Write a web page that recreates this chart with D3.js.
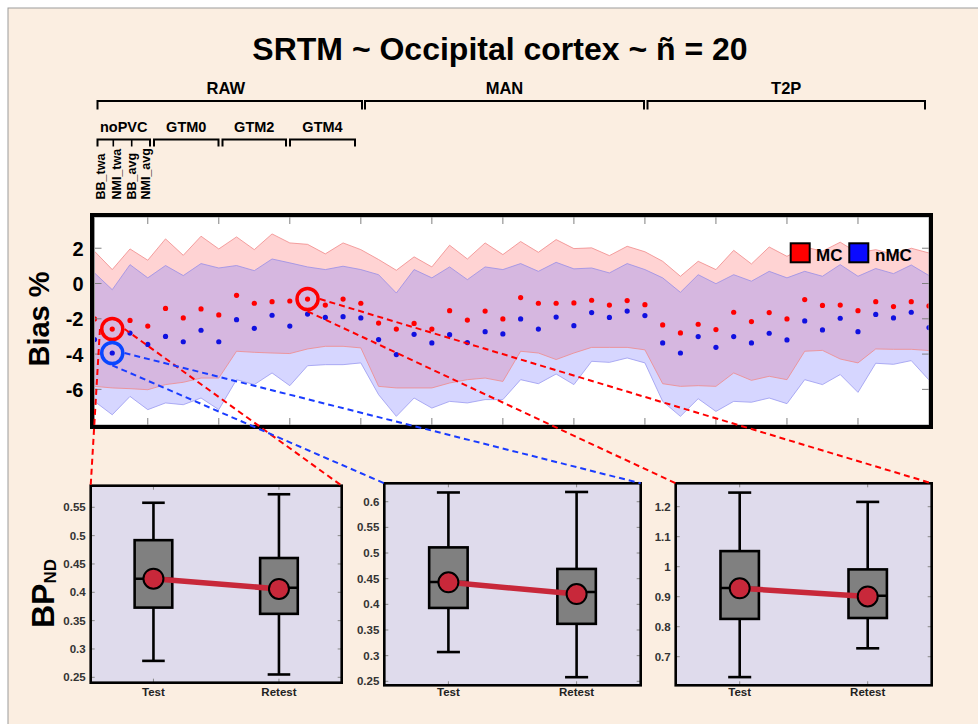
<!DOCTYPE html>
<html><head><meta charset="utf-8">
<script src="https://cdn.jsdelivr.net/npm/d3@7"></script>
<style>html,body{margin:0;padding:0;background:#fff;} svg{display:block;font-family:"Liberation Sans",Arial,sans-serif;}</style>
</head><body><svg id="c" width="978" height="724"></svg>
<script>
// ---------------- DATA ----------------
const title = "SRTM ~ Occipital cortex ~ ñ = 20";
const groups = ["RAW", "MAN", "T2P"];
const pvcMethods = ["noPVC", "GTM0", "GTM2", "GTM4"];
const subMethods = ["BB_twa", "NMI_twa", "BB_avg", "NMI_avg"];
const seriesNames = ["MC", "nMC"];
const yTicks = [2, 0, -2, -4, -6];
const xTicks = [4, 8, 12, 16, 20, 24, 28, 32, 36, 40, 44];
const yLimits = [-8.02, 3.77];

const mcMean = [-2.01,-2.58,-2.09,-2.41,-1.41,-1.95,-1.44,-1.78,-0.67,-1.12,-1.03,-0.99,-0.88,-1.22,-0.88,-1.12,
  -2.24,-2.58,-2.26,-2.58,-1.54,-2.07,-1.56,-2.01,-0.80,-1.12,-1.12,-1.10,-0.95,-1.22,-0.97,-1.20,
  -2.35,-2.80,-2.31,-2.61,-1.63,-2.16,-1.65,-2.01,-0.91,-1.24,-1.22,-1.54,-1.03,-1.31,-1.03,-1.27];
const mcUpper = [1.83,0.79,1.96,1.32,2.53,1.60,2.68,1.96,2.64,1.92,2.81,2.30,2.22,1.68,2.30,1.92,
  1.36,0.75,1.51,0.94,2.17,1.39,2.30,1.64,2.38,1.77,2.49,1.98,2.02,1.58,2.11,1.80,
  1.26,0.41,1.26,0.79,1.88,1.11,2.07,1.54,2.07,1.83,2.34,1.73,1.92,1.65,2.00,1.73];
const mcLower = [-5.83,-5.92,-5.96,-6.02,-5.73,-5.60,-5.36,-5.36,-3.84,-3.90,-3.94,-3.97,-3.71,-3.56,-3.56,-3.65,
  -5.83,-5.92,-5.92,-5.92,-5.64,-5.45,-5.36,-5.55,-3.84,-3.94,-4.31,-3.94,-3.62,-3.62,-3.62,-3.76,
  -5.68,-5.83,-5.79,-5.83,-5.07,-5.49,-5.26,-5.45,-3.84,-3.79,-4.28,-4.50,-3.71,-3.73,-3.73,-3.80];
const nmcMean = [-3.18,-3.94,-2.81,-3.45,-3.00,-3.30,-2.65,-3.30,-2.05,-2.54,-1.80,-2.41,-1.73,-1.92,-1.88,-1.95,
  -3.18,-4.03,-2.88,-3.37,-2.90,-3.35,-2.73,-2.86,-2.01,-2.58,-1.90,-2.39,-1.65,-1.92,-1.56,-1.82,
  -3.37,-3.94,-3.01,-3.62,-3.01,-3.37,-2.82,-3.20,-2.12,-2.63,-1.97,-2.73,-1.75,-1.95,-1.63,-2.50];
const nmcUpper = [0.60,-0.35,1.07,0.32,1.02,0.45,1.13,0.88,1.02,0.73,1.39,1.17,0.94,0.79,0.98,0.79,
  0.50,-0.54,0.79,0.32,0.94,0.22,0.94,0.79,1.13,0.69,1.20,0.83,0.88,0.60,1.13,0.79,
  0.32,-0.50,0.50,-0.01,0.50,0.13,0.69,0.32,0.69,0.41,1.07,0.41,0.85,0.56,1.05,0.45];
const nmcLower = [-6.68,-7.44,-6.40,-7.15,-6.77,-6.87,-6.49,-7.15,-5.45,-5.73,-5.07,-5.79,-4.66,-4.60,-4.60,-4.50,
  -6.30,-7.53,-6.49,-7.06,-6.68,-6.77,-6.58,-6.58,-5.45,-5.68,-5.13,-5.73,-4.41,-4.47,-4.22,-4.50,
  -6.68,-7.53,-6.53,-7.25,-6.68,-6.73,-6.49,-6.81,-5.45,-5.73,-5.16,-6.17,-4.52,-4.58,-4.37,-5.47];

// highlighted points (1-based point number) and the box panel they expand into
const highlightSeries = ["MC", "nMC", "MC"];
const highlightPoint = [2, 2, 13];

// box plots: panels x [Test, Retest]
const boxCategories = ["Test", "Retest"];
const bpWhiskerLow = [[0.279, 0.255], [0.307, 0.258], [0.632, 0.728]];
const bpQ1 = [[0.373, 0.362], [0.393, 0.362], [0.826, 0.829]];
const bpMedian = [[0.424, 0.408], [0.4435, 0.424], [0.929, 0.903]];
const bpQ3 = [[0.492, 0.4605], [0.511, 0.469], [1.052, 0.991]];
const bpWhiskerHigh = [[0.558, 0.573], [0.618, 0.619], [1.247, 1.216]];
const bpMean = [[0.424, 0.406], [0.443, 0.420], [0.928, 0.901]];
const bpTicks = [[0.25, 0.3, 0.35, 0.4, 0.45, 0.5, 0.55],
                 [0.25, 0.3, 0.35, 0.4, 0.45, 0.5, 0.55, 0.6],
                 [0.7, 0.8, 0.9, 1, 1.1, 1.2]];
const bpLimits = [[0.2405, 0.5881], [0.2422, 0.6359], [0.6047, 1.278]];

// ---------------- LAYOUT ----------------
const W = 978, H = 724;
const P = {l: 94.5, r: 929, t: 217, b: 425};
const groupSpans = [[97.5, 362], [365, 644], [647.5, 925]];
const pvcSpans = [[97.5, 150], [154, 218.5], [222.5, 286], [290, 355]];
const subDividers = [113.3, 131.7];
const subLabelX = [105, 120.6, 136, 150.3];
const panelBox = [{x0: 90.7, x1: 341.7, y0: 485.7, y1: 682.7},
                  {x0: 384.3, x1: 640.7, y0: 483.3, y1: 685.3},
                  {x0: 675.7, x1: 931.7, y0: 483.3, y1: 685.3}];
const linkAnchors = [["left", "right"], ["bottom", "right"], ["bottom", "right"]];
const COL = {mc: "#ff0000", nmc: "#0a0aff", ring2: "#0a46ff", bg: "#fbeee1"};

const svg = d3.select("#c");
svg.append("rect").attr("x", 0).attr("y", 0).attr("width", W).attr("height", H).attr("fill", "#fff");
svg.append("rect").attr("x", 8).attr("y", 8).attr("width", W).attr("height", H)
  .attr("fill", COL.bg).attr("stroke", "#9c9c9c").attr("stroke-width", 1);

// title
svg.append("text").attr("x", 500).attr("y", 60).attr("text-anchor", "middle")
  .attr("font-size", 32).attr("font-weight", "bold").text(title);

// group brackets
const bracket = (x0, x1, y, drop, sw) => {
  svg.append("path").attr("d", `M${x0},${y + drop}V${y}H${x1}V${y + drop}`)
    .attr("fill", "none").attr("stroke", "#000").attr("stroke-width", sw);
};
groups.forEach((g, i) => {
  const [a, b] = groupSpans[i];
  bracket(a, b, 101, 8.5, 2);
  svg.append("text").attr("x", (a + b) / 2 - (i === 0 ? 4 : 0)).attr("y", 94).attr("text-anchor", "middle")
    .attr("font-size", 16.5).attr("font-weight", "bold").text(g);
});
pvcMethods.forEach((m, i) => {
  const [a, b] = pvcSpans[i];
  bracket(a, b, 139.5, 7, 2);
  svg.append("text").attr("x", (a + b) / 2).attr("y", 132).attr("text-anchor", "middle")
    .attr("font-size", 14.5).attr("font-weight", "bold").text(m);
});
subDividers.forEach(x => svg.append("line").attr("x1", x).attr("x2", x).attr("y1", 139.5).attr("y2", 146.5)
  .attr("stroke", "#000").attr("stroke-width", 1.6));
subMethods.forEach((s, i) => {
  svg.append("text").attr("transform", `translate(${subLabelX[i]},199.5) rotate(-90)`)
    .attr("font-size", 12.5).attr("font-weight", "bold").text(s);
});

// ---------------- MAIN PLOT ----------------
const x = d3.scaleLinear().domain([1, 48]).range([P.l, P.r]);
const y = d3.scaleLinear().domain(yLimits).range([P.b, P.t]);
const idx = d3.range(1, 49);

svg.append("defs").append("clipPath").attr("id", "clipMain")
  .append("rect").attr("x", P.l).attr("y", P.t).attr("width", P.r - P.l).attr("height", P.b - P.t);
svg.append("rect").attr("x", P.l).attr("y", P.t).attr("width", P.r - P.l).attr("height", P.b - P.t).attr("fill", "#fff");
const gp = svg.append("g").attr("clip-path", "url(#clipMain)");

const area = (lo, hi) => d3.area().x((d, i) => x(idx[i])).y0((d, i) => y(lo[i])).y1((d, i) => y(hi[i]))(idx);
const line = arr => d3.line().x((d, i) => x(idx[i])).y((d, i) => y(arr[i]))(idx);
gp.append("path").attr("d", area(mcLower, mcUpper)).attr("fill", "#ff6e6e").attr("fill-opacity", 0.3);
gp.append("path").attr("d", area(nmcLower, nmcUpper)).attr("fill", "#7777ff").attr("fill-opacity", 0.3);
[[mcUpper, "#f08a8a"], [mcLower, "#f08a8a"], [nmcUpper, "#9a8ee6"], [nmcLower, "#9a9af0"]].forEach(([a, c]) =>
  gp.append("path").attr("d", line(a)).attr("fill", "none").attr("stroke", c).attr("stroke-width", 1).attr("stroke-opacity", 0.8));

gp.selectAll(".dm").data(mcMean).join("circle").attr("cx", (d, i) => x(idx[i])).attr("cy", d => y(d))
  .attr("r", 2.6).attr("fill", COL.mc);
gp.selectAll(".dn").data(nmcMean).join("circle").attr("cx", (d, i) => x(idx[i])).attr("cy", d => y(d))
  .attr("r", 2.6).attr("fill", "#1010e0");

// ticks
const tk = svg.append("g").attr("stroke", "#808080").attr("stroke-width", 1);
xTicks.forEach(t => {
  tk.append("line").attr("x1", x(t)).attr("x2", x(t)).attr("y1", P.t).attr("y2", P.t + 7);
  tk.append("line").attr("x1", x(t)).attr("x2", x(t)).attr("y1", P.b).attr("y2", P.b - 7);
});
yTicks.forEach(t => {
  tk.append("line").attr("x1", P.l).attr("x2", P.l + 7).attr("y1", y(t)).attr("y2", y(t));
  tk.append("line").attr("x1", P.r).attr("x2", P.r - 7).attr("y1", y(t)).attr("y2", y(t));
  svg.append("text").attr("x", 83.5).attr("y", y(t) + 7.5).attr("text-anchor", "end")
    .attr("font-size", 20).attr("font-weight", "bold").text(t);
});
svg.append("rect").attr("x", P.l).attr("y", P.t).attr("width", P.r - P.l).attr("height", P.b - P.t)
  .attr("fill", "none").attr("stroke", "#9a9a9a").attr("stroke-width", 1);
svg.append("rect").attr("x", P.l - 2.5).attr("y", P.t - 2).attr("width", P.r - P.l + 4.5).attr("height", P.b - P.t + 4)
  .attr("fill", "none").attr("stroke", "#000").attr("stroke-width", 4);

svg.append("text").attr("transform", "translate(48.5,319) rotate(-90)").attr("text-anchor", "middle")
  .attr("font-size", 29).attr("font-weight", "bold").text("Bias %");

// legend
const leg = [{n: seriesNames[0], c: COL.mc, x: 790.7, tx: 816}, {n: seriesNames[1], c: COL.nmc, x: 849.3, tx: 875}];
leg.forEach(l => {
  svg.append("rect").attr("x", l.x).attr("y", 243.3).attr("width", 19).attr("height", 19)
    .attr("fill", l.c).attr("stroke", "#000").attr("stroke-width", 2);
  svg.append("text").attr("x", l.tx).attr("y", 261).attr("font-size", 17).attr("font-weight", "bold").text(l.n);
});

// ---------------- BOX PLOTS ----------------
svg.append("text").attr("transform", "translate(53.5,628) rotate(-90)")
  .attr("font-weight", "bold")
  .call(t => {
    t.append("tspan").attr("font-size", 32).text("BP");
    t.append("tspan").attr("font-size", 17).attr("dy", 2).text("ND");
  });

panelBox.forEach((pb, k) => {
  const bx = d3.scaleLinear().domain([0.5, 2.5]).range([pb.x0, pb.x1]);
  const by = d3.scaleLinear().domain(bpLimits[k]).range([pb.y1, pb.y0]);
  const g = svg.append("g");
  g.append("rect").attr("x", pb.x0).attr("y", pb.y0).attr("width", pb.x1 - pb.x0).attr("height", pb.y1 - pb.y0)
    .attr("fill", "#dfdbec");
  bpTicks[k].forEach(t => {
    g.append("line").attr("x1", pb.x0).attr("x2", pb.x0 + 4).attr("y1", by(t)).attr("y2", by(t)).attr("stroke", "#888");
    g.append("line").attr("x1", pb.x1).attr("x2", pb.x1 - 4).attr("y1", by(t)).attr("y2", by(t)).attr("stroke", "#888");
    svg.append("text").attr("x", pb.x0 - 5).attr("y", by(t) + 4).attr("text-anchor", "end")
      .attr("font-size", 11.5).attr("font-weight", "bold").attr("fill", "#333").text(t);
  });
  boxCategories.forEach((c, j) => {
    const cx = bx(j + 1);
    g.append("line").attr("x1", cx).attr("x2", cx).attr("y1", pb.y0).attr("y2", pb.y0 + 4).attr("stroke", "#888");
    g.append("line").attr("x1", cx).attr("x2", cx).attr("y1", pb.y1).attr("y2", pb.y1 - 4).attr("stroke", "#888");
    const hw = bx(1.15) - bx(1), cw = bx(1.09) - bx(1);
    g.append("line").attr("x1", cx).attr("x2", cx).attr("y1", by(bpWhiskerLow[k][j])).attr("y2", by(bpWhiskerHigh[k][j]))
      .attr("stroke", "#000").attr("stroke-width", 2.6);
    [bpWhiskerLow[k][j], bpWhiskerHigh[k][j]].forEach(v =>
      g.append("line").attr("x1", cx - cw).attr("x2", cx + cw).attr("y1", by(v)).attr("y2", by(v))
        .attr("stroke", "#000").attr("stroke-width", 2.6));
    g.append("rect").attr("x", cx - hw).attr("width", 2 * hw).attr("y", by(bpQ3[k][j]))
      .attr("height", by(bpQ1[k][j]) - by(bpQ3[k][j])).attr("fill", "#808080").attr("stroke", "#000").attr("stroke-width", 2.6);
    g.append("line").attr("x1", cx - hw).attr("x2", cx + hw).attr("y1", by(bpMedian[k][j])).attr("y2", by(bpMedian[k][j]))
      .attr("stroke", "#000").attr("stroke-width", 2.4);
    svg.append("text").attr("x", cx).attr("y", 696).attr("text-anchor", "middle")
      .attr("font-size", 11.5).attr("font-weight", "bold").attr("fill", "#222").text(c);
  });
  g.append("line").attr("x1", bx(1)).attr("x2", bx(2)).attr("y1", by(bpMean[k][0])).attr("y2", by(bpMean[k][1]))
    .attr("stroke", "#c8283a").attr("stroke-width", 5.5);
  bpMean[k].forEach((v, j) => g.append("circle").attr("cx", bx(j + 1)).attr("cy", by(v)).attr("r", 10)
    .attr("fill", "#c8283a").attr("stroke", "#000").attr("stroke-width", 2));
  g.append("rect").attr("x", pb.x0).attr("y", pb.y0).attr("width", pb.x1 - pb.x0).attr("height", pb.y1 - pb.y0)
    .attr("fill", "none").attr("stroke", "#000").attr("stroke-width", 2.6);
});

// ---------------- HIGHLIGHT RINGS + LINKS ----------------
const R = 12.3;
highlightSeries.forEach((s, k) => {
  const arr = s === "MC" ? mcMean : nmcMean;
  const col = s === "MC" ? COL.mc : COL.ring2;
  const cx = x(highlightPoint[k]), cy = y(arr[highlightPoint[k] - 1]);
  svg.append("circle").attr("cx", cx).attr("cy", cy).attr("r", R - 1.75).attr("fill", "none")
    .attr("stroke", col).attr("stroke-width", 3.5);
  const pb = panelBox[k];
  const targets = [[pb.x0, pb.y0], [pb.x1, pb.y0]];
  linkAnchors[k].forEach((a, j) => {
    const sx = a === "left" ? cx - R : a === "right" ? cx + R : cx;
    const sy = a === "bottom" ? cy + R : cy;
    svg.append("line").attr("x1", sx).attr("y1", sy).attr("x2", targets[j][0]).attr("y2", targets[j][1])
      .attr("stroke", s === "MC" ? COL.mc : "#1a3cff").attr("stroke-width", 2).attr("stroke-dasharray", "6,4");
  });
});
</script></body></html>
